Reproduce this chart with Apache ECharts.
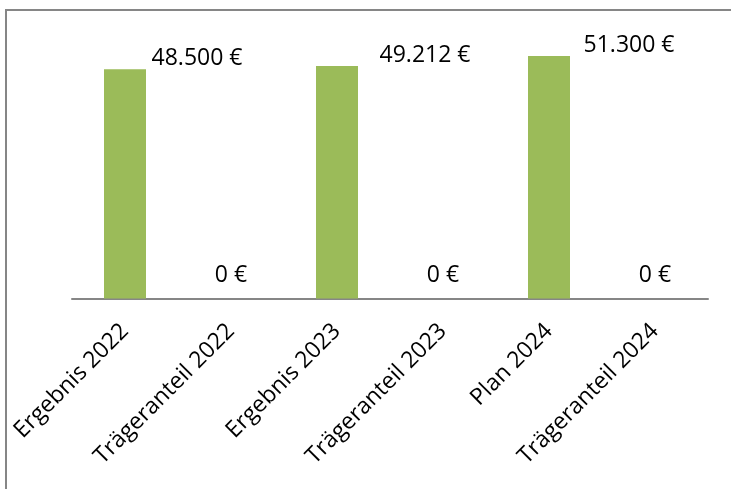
<!DOCTYPE html>
<html><head><meta charset="utf-8">
<script src="https://cdn.jsdelivr.net/npm/echarts@6/dist/echarts.min.js"></script>
<style>html,body{margin:0;padding:0;background:#fff}#c{width:731px;height:489px}</style>
</head><body><div id="c"></div>
<script>
const categories = ['Ergebnis 2022', 'Trägeranteil 2022', 'Ergebnis 2023', 'Trägeranteil 2023', 'Plan 2024', 'Trägeranteil 2024'];
const values = [48500, 0, 49212, 0, 51300, 0];
// label horizontal shift (style only)
const labelShiftX = [72, 0, 88, 0, 80, 0];

const fmt = v => (v === 0 ? '0' : v.toLocaleString('de-DE')) + ' €';
const FONT = '"Open Sans", "Liberation Sans", sans-serif';

const chart = echarts.init(document.getElementById('c'));
chart.setOption({
  animation: false,
  graphic: [{
    type: 'rect', shape: { x: 6, y: 10, width: 900, height: 700 },
    style: { fill: 'none', stroke: '#868686', lineWidth: 2 }, silent: true
  }],
  grid: { left: 72, right: 23, top: 15, bottom: 190.5 },
  xAxis: {
    type: 'category', data: categories,
    axisLine: { lineStyle: { color: '#868686', width: 2 } },
    axisTick: { show: false },
    axisLabel: { interval: 0, rotate: 45, margin: 29, color: '#000', fontSize: 23, fontFamily: FONT }
  },
  yAxis: {
    type: 'value', min: 0, max: 60000, show: false, splitLine: { show: false }
  },
  series: [{
    type: 'bar', barWidth: 42,
    itemStyle: { color: '#9BBB59' },
    data: values.map((v, i) => ({
      value: v,
      label: {
        show: true, position: 'top', distance: -1,
        offset: [labelShiftX[i], v === 0 ? -13 : 0],
        formatter: p => fmt(p.value),
        color: '#000', fontSize: 23, fontFamily: FONT
      }
    }))
  }]
});
</script></body></html>
